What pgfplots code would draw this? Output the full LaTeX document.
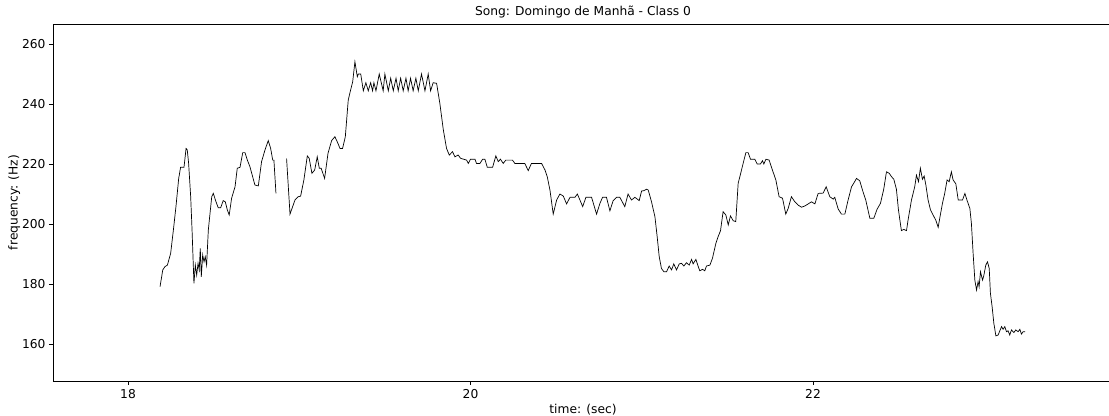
\documentclass[border=0pt]{standalone}
\usepackage{pgfplots}
\pgfplotsset{compat=1.18}
\usepackage{pgfplotstable}
\usepackage{fontspec}
\setmainfont{DejaVu Sans}

% Pitch contour, first voiced segment
\pgfplotstableread{
t f
18.187 179.1
18.203 184.7
18.216 185.8
18.230 186.3
18.249 190.2
18.265 198.0
18.280 205.8
18.296 215.2
18.307 218.9
18.327 218.9
18.339 225.2
18.346 224.7
18.354 220.2
18.366 209.1
18.374 198.0
18.385 180.2
18.393 186.3
18.401 183.0
18.409 186.9
18.416 184.7
18.422 191.9
18.428 182.4
18.436 189.7
18.444 187.4
18.451 189.1
18.459 186.3
18.469 198.0
18.479 203.6
18.489 209.1
18.498 210.2
18.514 207.4
18.527 205.4
18.541 205.4
18.556 207.8
18.568 207.4
18.580 204.7
18.591 203.0
18.605 208.6
18.625 212.4
18.638 218.6
18.654 218.9
18.670 223.8
18.683 223.8
18.697 221.3
18.712 219.1
18.741 213.0
18.761 212.7
18.780 220.8
18.800 224.7
18.819 227.8
18.833 225.2
18.845 221.3
18.852 221.3
18.864 210.2
}\segA

% Pitch contour, second voiced segment
\pgfplotstableread{
t f
18.926 221.8
18.946 203.3
18.975 208.0
18.994 209.1
19.008 209.3
19.027 214.7
19.047 222.7
19.058 221.9
19.074 216.9
19.090 218.0
19.105 222.4
19.117 218.6
19.128 218.6
19.148 215.2
19.168 223.6
19.189 227.8
19.208 229.1
19.222 227.4
19.238 225.2
19.253 225.2
19.269 229.1
19.286 241.3
19.300 244.7
19.312 247.4
19.325 254.1
19.339 249.1
19.345 250.0
19.359 250.0
19.374 244.4
19.389 247.1
19.403 244.4
19.417 247.1
19.428 244.4
19.436 247.1
19.448 244.4
19.467 250.0
19.490 244.4
19.500 250.0
19.520 244.4
19.534 248.6
19.549 244.4
19.565 248.6
19.578 244.4
19.592 248.6
19.607 244.4
19.623 248.6
19.636 244.4
19.650 248.6
19.665 244.4
19.681 248.6
19.695 244.4
19.714 250.0
19.734 244.4
19.753 250.0
19.767 244.4
19.782 247.1
19.802 246.9
19.821 240.2
19.841 231.5
19.860 225.2
19.876 223.0
19.895 224.1
19.909 222.4
19.928 223.0
19.942 221.9
19.977 221.3
19.987 220.2
20.000 221.6
20.026 221.6
20.035 220.2
20.055 220.2
20.071 221.6
20.084 221.6
20.098 218.9
20.129 218.9
20.148 222.7
20.162 220.8
20.175 221.6
20.191 220.2
20.206 221.3
20.245 221.3
20.259 220.2
20.317 220.2
20.337 217.8
20.356 220.2
20.415 220.2
20.435 218.0
20.448 215.8
20.464 211.3
20.483 203.3
20.503 208.0
20.522 210.0
20.542 209.3
20.561 206.7
20.581 208.9
20.610 208.9
20.624 210.0
20.639 208.0
20.655 205.8
20.674 208.9
20.707 208.9
20.736 203.3
20.756 206.9
20.771 208.9
20.794 208.9
20.814 204.4
20.833 207.8
20.853 208.9
20.872 208.9
20.901 205.8
20.920 210.0
20.940 208.0
20.960 208.9
20.985 207.8
20.999 211.0
21.012 211.1
21.028 211.6
21.038 211.3
21.057 207.4
21.077 202.4
21.090 195.8
21.102 189.1
21.115 185.2
21.129 184.1
21.145 184.1
21.160 186.0
21.174 184.7
21.187 186.7
21.203 184.7
21.219 186.7
21.232 186.9
21.246 186.0
21.261 187.1
21.277 186.3
21.291 188.2
21.300 186.7
21.316 188.2
21.330 185.8
21.339 184.4
21.355 184.9
21.368 184.4
21.378 186.0
21.398 186.3
21.413 188.6
21.433 193.6
21.446 195.8
21.460 197.8
21.475 204.1
21.491 203.0
21.505 199.7
21.518 202.7
21.534 201.1
21.549 200.8
21.563 213.6
21.573 215.8
21.592 220.2
21.608 223.8
21.621 223.8
21.635 221.6
21.660 221.6
21.674 220.0
21.693 220.0
21.705 221.1
21.713 220.0
21.725 221.6
21.744 221.3
21.763 218.0
21.783 214.7
21.802 209.1
21.822 208.6
21.841 203.3
21.855 205.2
21.874 209.1
21.894 207.4
21.913 206.3
21.933 205.6
21.952 206.0
21.972 206.7
21.991 207.4
22.011 206.7
22.030 210.2
22.059 210.3
22.077 212.4
22.098 209.1
22.118 208.3
22.127 208.9
22.147 205.0
22.166 203.3
22.186 203.3
22.205 208.0
22.225 212.4
22.238 213.6
22.254 215.2
22.273 214.4
22.289 211.3
22.308 208.0
22.332 201.9
22.355 201.9
22.374 204.9
22.394 206.9
22.413 211.6
22.429 217.4
22.445 216.9
22.458 215.8
22.472 214.9
22.487 211.6
22.499 204.7
22.516 197.8
22.530 198.2
22.546 197.8
22.555 201.3
22.575 208.0
22.594 212.4
22.604 216.3
22.616 214.1
22.627 218.6
22.639 214.9
22.649 216.0
22.659 213.0
22.672 208.0
22.686 204.7
22.701 203.0
22.717 201.3
22.731 198.9
22.740 201.9
22.756 206.9
22.769 210.2
22.783 214.7
22.795 214.1
22.808 217.4
22.818 214.7
22.834 213.4
22.848 208.0
22.873 208.0
22.887 210.2
22.900 207.8
22.916 205.2
22.925 200.2
22.935 190.2
22.945 181.3
22.955 178.0
22.964 180.8
22.970 179.1
22.978 184.1
22.990 181.3
22.997 182.7
23.009 186.3
23.019 187.4
23.029 185.2
23.036 176.9
23.046 172.4
23.056 166.9
23.068 162.7
23.081 163.0
23.091 164.4
23.101 165.8
23.110 164.9
23.120 165.8
23.130 164.1
23.139 164.4
23.149 163.0
23.159 164.7
23.173 163.8
23.184 164.7
23.198 164.1
23.208 164.9
23.217 163.3
23.227 164.1
23.239 164.1
}\segB

\begin{document}
\begin{tikzpicture}[font=\fontsize{12.3}{14}\selectfont]
% the page shows the axes up to just short of their right edge
\clip (-53bp,-35bp) rectangle (1056bp,381bp);
\begin{axis}[
  at={(0,0)}, anchor=south west,
  scale only axis,
  width=1060bp, height=357bp,
  xmin=17.562, xmax=23.752,
  ymin=147.67, ymax=266.67,
  axis y line*=left,
  xtick={18,20,22},
  ytick={160,180,200,220,240,260},
  tick align=outside,
  major tick length=4bp,
  tick style={black, line width=0.8bp},
  xtick pos=bottom, ytick pos=left,
  axis line style={black, line width=0.8bp},
  /pgf/number format/assume math mode=true,
  /pgf/number format/1000 sep={},
  ticklabel style={font=\fontsize{12.3}{14}\selectfont},
  xticklabel style={yshift=-1bp},
  title={Song: Domingo de Manhã - Class 0},
  title style={at={(0.5,1)}, anchor=south, yshift=-4bp},
  xlabel={time: (sec)},
  ylabel={frequency: (Hz)},
  xlabel style={yshift=1bp},
  ylabel style={yshift=-5bp},
]
\addplot[black, line width=0.7bp] table[x=t, y=f] {\segA};
\addplot[black, line width=0.7bp] table[x=t, y=f] {\segB};
\end{axis}
\end{tikzpicture}
\end{document}
